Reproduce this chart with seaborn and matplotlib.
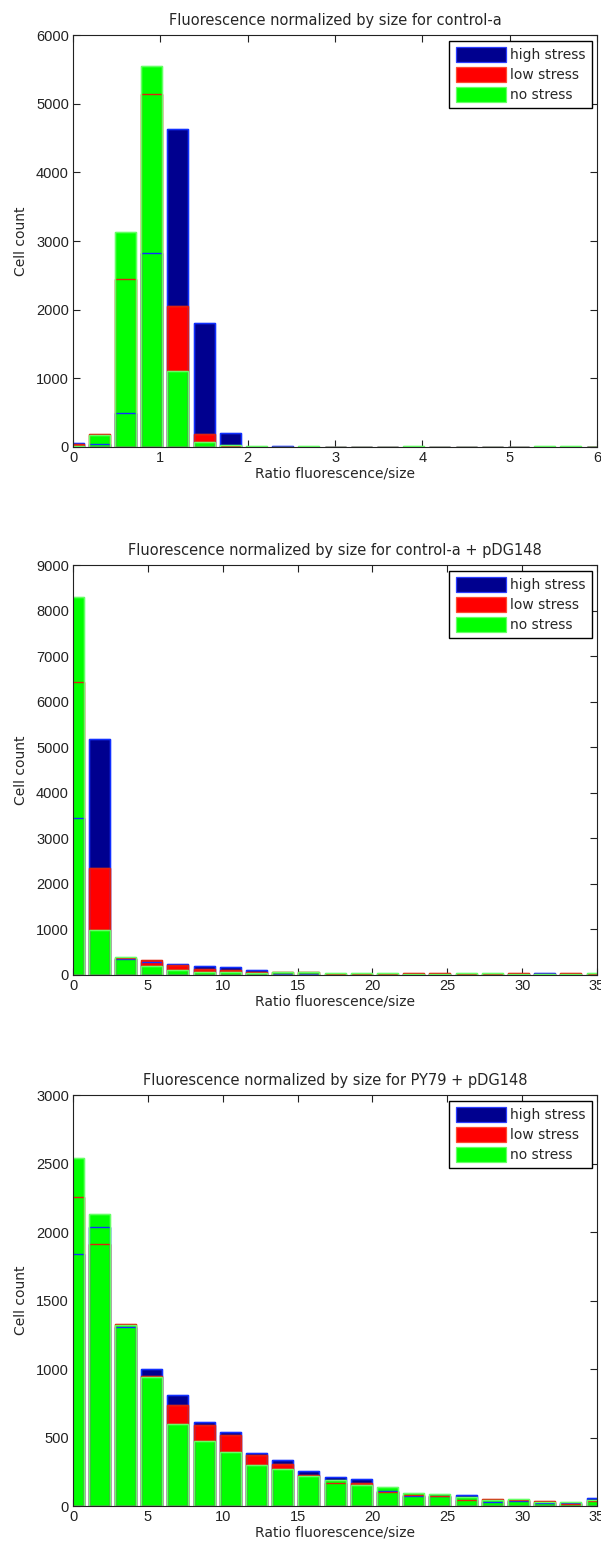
import numpy as np
import pandas as pd
import matplotlib
matplotlib.use("Agg")
import matplotlib.pyplot as plt
from matplotlib.patches import Patch
import seaborn as sns

# bin centres
bins1 = [0, 0.3, 0.6, 0.9, 1.2, 1.5, 1.8, 2.1, 2.4, 2.7, 3.0, 3.3, 3.6, 3.9,
         4.2, 4.5, 4.8, 5.1, 5.4, 5.7, 6.0]
bins2 = [0, 1.75, 3.5, 5.25, 7, 8.75, 10.5, 12.25, 14, 15.75, 17.5, 19.25,
         21, 22.75, 24.5, 26.25, 28, 29.75, 31.5, 33.25, 35]

# control-a
high1 = [55, 50, 490, 2820, 4635, 1810, 210, 5, 15, 0, 0, 0, 0, 0, 0, 0, 0, 0, 0, 0, 0]
low1 = [38, 195, 2440, 5140, 2055, 195, 12, 5, 0, 0, 0, 0, 0, 0, 0, 0, 0, 0, 0, 0, 0]
none1 = [18, 178, 3130, 5550, 1105, 73, 22, 15, 0, 12, 0, 0, 0, 12, 0, 0, 0, 0, 12, 12, 0]

# control-a + pDG148
high2 = [3440, 5170, 340, 295, 245, 190, 168, 110, 30, 25, 10, 10, 10, 15, 15, 10, 10, 15, 35, 15, 10]
low2 = [6440, 2345, 365, 330, 220, 140, 105, 58, 65, 66, 15, 15, 15, 35, 35, 20, 20, 35, 20, 35, 20]
none2 = [8300, 980, 402, 205, 110, 60, 58, 37, 60, 60, 42, 42, 42, 25, 25, 35, 35, 25, 15, 25, 35]

# PY79 + pDG148
high3 = [1840, 2035, 1305, 1000, 808, 616, 543, 384, 333, 253, 212, 200, 109, 70, 75, 80, 30, 34, 25, 22, 56]
low3 = [2253, 1910, 1325, 950, 737, 591, 518, 370, 307, 229, 170, 165, 100, 83, 70, 46, 54, 44, 39, 15, 34]
none3 = [2538, 2134, 1320, 942, 596, 474, 397, 299, 273, 219, 192, 151, 139, 97, 90, 63, 44, 54, 29, 27, 45]

titles = ["Fluorescence normalized by size for control-a",
          "Fluorescence normalized by size for control-a + pDG148",
          "Fluorescence normalized by size for PY79 + pDG148"]

series_names = ["high stress", "low stress", "no stress"]
face_colors = ["#00008f", "#ff0000", "#00ff00"]
edge_colors = ["#2a3cff", "#ff4a30", "#66ff66"]
line_colors = ["#1030ff", "#e02010", "#66ff66"]

sns.set_style("ticks")
plt.rcParams["font.family"] = ["DejaVu Sans"]
plt.rcParams["font.size"] = 10

tick_font = "Liberation Sans"

fig = plt.figure(figsize=(6.01, 15.51), dpi=100)
rects = [[0.1215, 0.7118, 0.872, 0.2656],
         [0.1215, 0.3714, 0.872, 0.2643],
         [0.1215, 0.0290, 0.872, 0.2650]]

panels = [
    (bins1, [high1, low1, none1], (0, 6), np.arange(0, 7, 1), (0, 6000), np.arange(0, 6001, 1000)),
    (bins2, [high2, low2, none2], (0, 35), np.arange(0, 36, 5), (0, 9000), np.arange(0, 9001, 1000)),
    (bins2, [high3, low3, none3], (0, 35), np.arange(0, 36, 5), (0, 3000), np.arange(0, 3001, 500)),
]

for i, (bins, vals, xl, xt, yl, yt) in enumerate(panels):
    ax = fig.add_axes(rects[i])
    # filled bars, drawn on top of each other (high, low, no)
    for v, fc, ec in zip(vals, face_colors, edge_colors):
        df = pd.DataFrame({"x": bins, "y": v})
        sns.barplot(data=df, x="x", y="y", native_scale=True, color=fc,
                    saturation=1, width=0.8, errorbar=None,
                    edgecolor=ec, linewidth=0.9, ax=ax)
    # outlines so hidden tops still show through
    for v, lc in zip(vals, line_colors):
        df = pd.DataFrame({"x": bins, "y": v})
        sns.barplot(data=df, x="x", y="y", native_scale=True, color=lc,
                    fill=False, width=0.8, errorbar=None,
                    edgecolor=lc, linewidth=1.0, ax=ax)

    ax.set_xlim(*xl)
    ax.set_ylim(*yl)
    ax.set_xticks(xt)
    ax.set_yticks(yt)
    ax.set_xticklabels([str(t) for t in xt], family=tick_font)
    ax.set_yticklabels([str(t) for t in yt], family=tick_font)
    ax.tick_params(direction="in", top=True, right=True, length=5,
                   width=0.8, colors="#222222", labelsize=10.5, pad=3)
    for sp in ax.spines.values():
        sp.set_color("#222222")
        sp.set_linewidth(0.8)
    ax.set_title(titles[i], fontsize=10.5, pad=7)
    ax.set_xlabel("Ratio fluorescence/size", fontsize=10, labelpad=1)
    ax.set_ylabel("Cell count", fontsize=10, labelpad=6)

    handles = [Patch(facecolor=fc, edgecolor=ec, linewidth=0.9)
               for fc, ec in zip(face_colors, edge_colors)]
    leg = ax.legend(handles, series_names, loc="upper right", fontsize=10,
                    frameon=True, fancybox=False, framealpha=1,
                    edgecolor="black", handlelength=3.6, handleheight=1.3,
                    handletextpad=0.3, labelspacing=0.35, borderpad=0.45,
                    borderaxespad=0.4)
    leg.get_frame().set_linewidth(1.0)

fig.savefig("out.png", dpi=100)
